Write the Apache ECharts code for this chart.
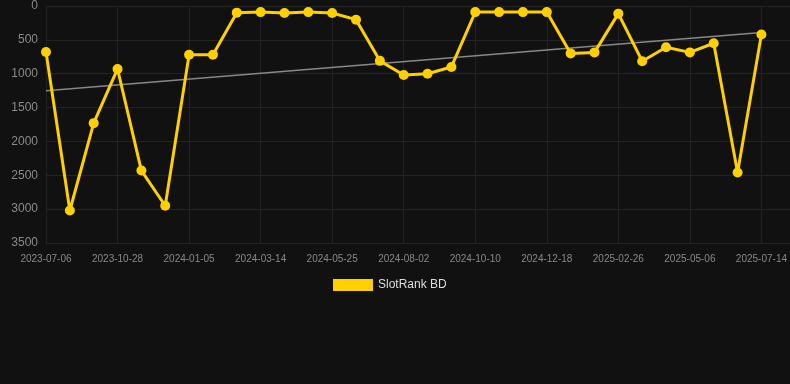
<!DOCTYPE html>
<html><head><meta charset="utf-8">
<script src="https://cdn.jsdelivr.net/npm/echarts@6/dist/echarts.min.js"></script>
<style>html,body{margin:0;padding:0;background:#111111;}#c{width:790px;height:384px;}</style>
</head><body><div id="c"></div>
<script>
const categories = ['2023-07-06','2023-08-13','2023-09-20','2023-10-28','2023-11-20','2023-12-13','2024-01-05','2024-01-28','2024-02-20','2024-03-14','2024-04-07','2024-05-01','2024-05-25','2024-06-17','2024-07-10','2024-08-02','2024-08-25','2024-09-17','2024-10-10','2024-11-02','2024-11-25','2024-12-18','2025-01-10','2025-02-03','2025-02-26','2025-03-21','2025-04-13','2025-05-06','2025-05-29','2025-06-21','2025-07-14'];
const rankValues = [680,3020,1730,930,2430,2950,720,720,98,90,103,90,103,202,810,1020,1000,900,90,90,90,90,700,685,113,815,610,685,550,2460,420];
const trendEnds = [1250, 390];
const yTicks = [0,500,1000,1500,2000,2500,3000,3500];

const trend = categories.map((c,i)=> i===0 ? trendEnds[0] : (i===categories.length-1 ? trendEnds[1] : null));

const chart = echarts.init(document.getElementById('c'));
chart.setOption({
  backgroundColor:'#111111',
  animation:false,
  grid:[
    {left:46,right:28,top:6,bottom:141},
    {left:46,right:0,top:6,bottom:141}
  ],
  legend:{
    bottom:88, left:328,
    data:[{name:'SlotRank BD', icon:'rect'}],
    itemWidth:40, itemHeight:12,
    textStyle:{color:'#dddddd', fontSize:12, fontFamily:'Liberation Sans, Arial'}
  },
  xAxis:[{
    type:'category', data:categories, boundaryGap:false, gridIndex:0,
    axisLine:{show:false}, axisTick:{show:false},
    axisLabel:{interval:2, color:'#888888', fontSize:10, fontFamily:'Liberation Sans, Arial', margin:11},
    splitLine:{show:true, interval:2, lineStyle:{color:'#222222'}}
  },{
    type:'value', gridIndex:1, show:false, min:0, max:1
  }],
  yAxis:[{
    type:'value', inverse:true, min:yTicks[0], max:yTicks[yTicks.length-1], interval:500, gridIndex:0,
    axisLine:{show:false}, axisTick:{show:false},
    axisLabel:{color:'#8a8a8a', fontSize:12, fontFamily:'Liberation Sans, Arial', margin:8, formatter:v=>String(v)},
    splitLine:{show:false}
  },{
    type:'value', inverse:true, min:yTicks[0], max:yTicks[yTicks.length-1], interval:500, gridIndex:1,
    axisLine:{show:false}, axisTick:{show:false}, axisLabel:{show:false},
    splitLine:{lineStyle:{color:'#232323'}}
  }],
  series:[
    {name:'SlotRank BD', type:'line', data:rankValues, color:'#FFD000',
     lineStyle:{width:3, color:'#FFD000'}, symbol:'circle', symbolSize:10,
     itemStyle:{color:'#FFD000'}, z:3},
    {name:'trend', type:'line', data:trend, connectNulls:true, symbol:'none',
     lineStyle:{width:1.5, color:'#888888'}, z:2, silent:true}
  ]
});
</script></body></html>
